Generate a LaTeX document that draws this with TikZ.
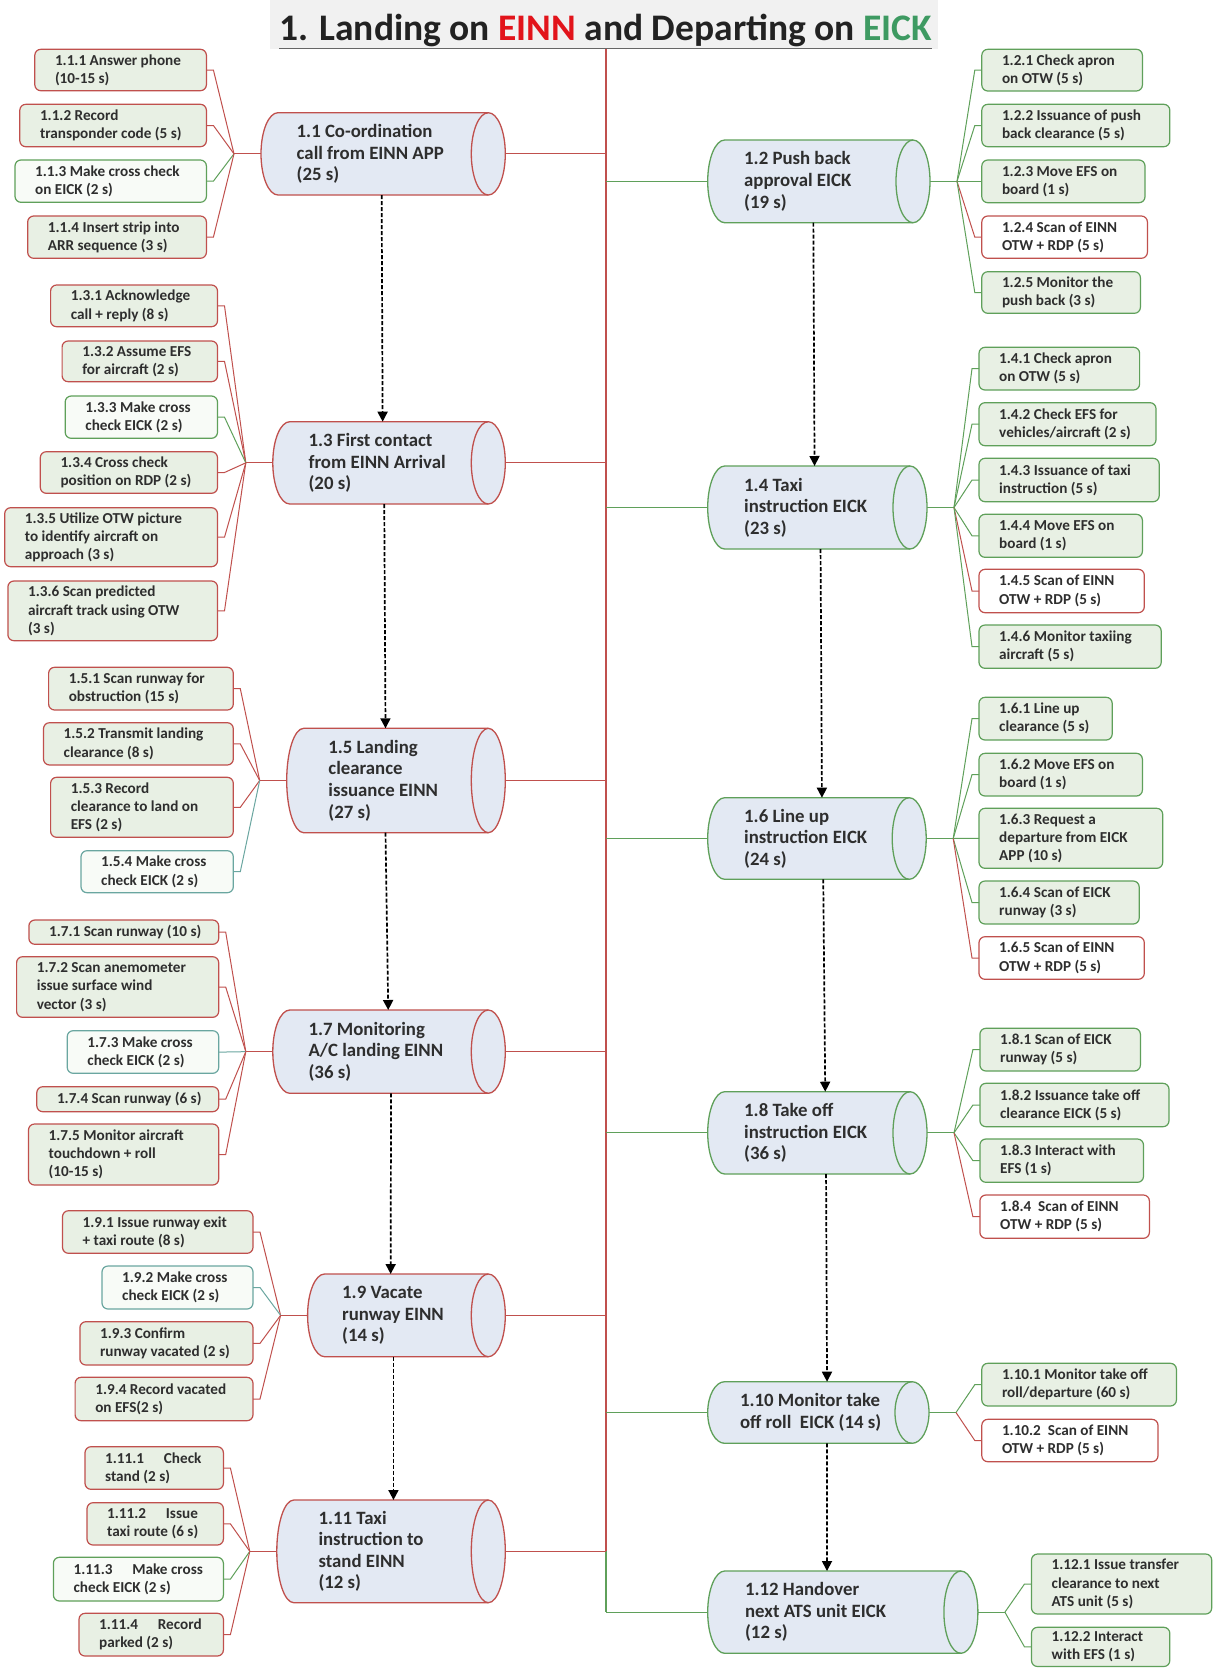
\documentclass[tikz,border=0pt]{standalone}
\usepackage{fontspec}
\setmainfont{Carlito}
\usetikzlibrary{arrows.meta}
\definecolor{einn}{HTML}{C0504D}
\definecolor{eick}{HTML}{5FA05A}
\definecolor{tealc}{HTML}{6AA6A0}
\definecolor{cylfill}{HTML}{E3E9F3}
\definecolor{leaffill}{HTML}{E8F0E4}
\definecolor{leafwhite}{HTML}{F8FBF7}
\definecolor{txt}{HTML}{2E2E2E}
\definecolor{titlered}{HTML}{E2141B}
\definecolor{titlegreen}{HTML}{3E9A62}
\definecolor{titlebg}{HTML}{F1F1F1}
\definecolor{titletxt}{HTML}{222222}
\tikzset{
  leafbox/.style={rectangle, rounded corners=6pt, line width=1.2pt, inner sep=0pt, outer sep=0pt},
  leaftext/.style={align=left, inner sep=0pt, text=txt, font=\bfseries\fontsize{15.2}{18.3}\selectfont},
  cylbox/.style={rectangle, inner sep=0pt, outer sep=0pt},
  cylline/.style={line width=1.3pt},
  cyltext/.style={align=left, inner sep=0pt, text=txt, font=\bfseries\fontsize{18.8}{21.6}\selectfont},
  conn/.style={line width=1pt},
  flow/.style={line width=1.7pt, dash pattern=on 4pt off 2pt, -{Triangle[length=10pt,width=10pt]}},
  trunkline/.style={line width=1.6pt}
}
% left leaf: name, x1, y1, x2, y2, border, fill, text, hub
\newcommand\leafL[9]{%
  \node[leafbox, draw=#6, fill=#7, anchor=north west, minimum width={(#4)-(#2)}, minimum height={(#5)-(#3)}] (#1) at (#2,#3) {};
  \node[leaftext, anchor=west] (#1t) at ([xshift=20pt]#1.west) {#8};
  \draw[conn, draw=#6] (#1.east) -- ([xshift=7pt]#1.east) -- (#9);
}
% right leaf
\newcommand\leafR[9]{%
  \node[leafbox, draw=#6, fill=#7, anchor=north west, minimum width={(#4)-(#2)}, minimum height={(#5)-(#3)}] (#1) at (#2,#3) {};
  \node[leaftext, anchor=west] (#1t) at ([xshift=20pt]#1.west) {#8};
  \draw[conn, draw=#6] (#9) -- ([xshift=-7pt]#1.west) -- (#1.west);
}
% cylinder: name, x1, y1, x2, y2, colour, text offset, text
\newcommand\cyl[8]{%
  \pgfmathsetmacro\cylry{((#5)-(#3))/2}
  \node[cylbox, anchor=north west, minimum width={(#4)-(#2)}, minimum height={(#5)-(#3)}] (#1) at (#2,#3) {};
  \filldraw[cylline, draw=#6, fill=cylfill] ([xshift=17pt]#1.north west) -- ([xshift=-17pt]#1.north east)
     arc[start angle=90, end angle=-90, x radius=17pt, y radius=\cylry pt]
     -- ([xshift=17pt]#1.south west)
     arc[start angle=270, end angle=90, x radius=17pt, y radius=\cylry pt] -- cycle;
  \draw[cylline, draw=#6] ([xshift=-17pt]#1.north east) arc[start angle=90, end angle=270, x radius=17pt, y radius=\cylry pt];
  \node[cyltext, anchor=west] (#1t) at ([xshift=#7pt]#1.west) {#8};
}
\begin{document}
\begin{tikzpicture}[x=1pt, y=-1pt]
\useasboundingbox (0,0) rectangle (1214,1668);
\fill[white] (0,0) rectangle (1214,1668);
% title
\fill[titlebg] (270,0) rectangle (938,48.5);
\node[anchor=base west, inner sep=0pt, text=titletxt, font=\bfseries\fontsize{37.5}{40}\selectfont] (title) at (279,40.5)
  {1. Landing on \textcolor{titlered}{EINN} and Departing on \textcolor{titlegreen}{EICK}};
\coordinate (ulL) at (279,48.5);
\draw[line width=1.4pt, draw=black!60] (ulL) -- (ulL -| title.east);
% trunk
\coordinate (trunktop) at (606,48.5);
\coordinate (trunkmid) at (606,1551.3);
\coordinate (trunkbot) at (606,1612.2);
\draw[trunkline, draw=einn] (trunktop) -- (trunkmid);
\draw[trunkline, draw=eick] (trunkmid) -- (trunkbot);

% cylinders
\cyl{c11}{261}{112.7}{505.3}{195}{einn}{35.5}{1.1 Co-ordination\\call from EINN APP\\(25 s)}
\cyl{c12}{707.7}{140}{930}{222.7}{eick}{36.3}{1.2 Push back\\approval EICK\\(19 s)}
\cyl{c13}{272.8}{421.7}{505.3}{504}{einn}{35.6}{1.3 First contact\\from EINN Arrival\\(20 s)}
\cyl{c14}{707.7}{466}{927}{549}{eick}{36.3}{1.4 Taxi\\instruction EICK\\(23 s)}
\cyl{c15}{286.7}{728.3}{505.3}{832.7}{einn}{41.5}{1.5 Landing\\clearance\\issuance EINN\\(27 s)}
\cyl{c16}{707.7}{797.7}{926.2}{879.3}{eick}{36.3}{1.6 Line up\\instruction EICK\\(24 s)}
\cyl{c17}{272.8}{1010}{505.3}{1093.3}{einn}{35.6}{1.7 Monitoring\\A/C landing EINN\\(36 s)}
\cyl{c18}{707.7}{1091.7}{927}{1174}{eick}{36.3}{1.8 Take off\\instruction EICK\\(36 s)}
\cyl{c19}{307.6}{1274}{505.3}{1356.7}{einn}{34.4}{1.9 Vacate\\runway EINN\\(14 s)}
\cyl{c110}{707.7}{1381.7}{929}{1443.3}{eick}{32.1}{1.10 Monitor take\\off roll\ \ EICK (14 s)}
\cyl{c111}{276.8}{1500}{505.3}{1602.7}{einn}{41.5}{1.11 Taxi\\instruction to\\stand EINN\\(12 s)}
\cyl{c112}{707.7}{1571}{977.9}{1653.3}{eick}{37.2}{1.12 Handover\\next ATS unit EICK\\(12 s)}

% cylinder to trunk
\foreach \c in {c11,c13,c15,c17,c19,c111}{
  \draw[conn, line width=1.2pt, draw=einn] (\c.east) -- (\c.east -| trunktop);
}
\foreach \c in {c12,c14,c16,c18,c110,c112}{
  \draw[conn, line width=1.2pt, draw=eick] (\c.west -| trunktop) -- (\c.west);
}

% hubs
\foreach \c in {c11,c13,c15,c17,c19,c111}{
  \coordinate (h\c) at ([xshift=-27pt]\c.west);
  \draw[conn, draw=einn] (h\c) -- (\c.west);
}
\foreach \c in {c12,c14,c16,c18,c110,c112}{
  \coordinate (h\c) at ([xshift=27pt]\c.east);
  \draw[conn, draw=eick] (\c.east) -- (h\c);
}

% flow arrows
\draw[flow] ([xshift=-1.5pt]c11.south) -- ([xshift=-6.4pt]c13.north);
\draw[flow] ([xshift=-4.8pt]c13.south) -- ([xshift=-10.5pt]c15.north);
\draw[flow] ([xshift=-10.5pt]c15.south) -- ([xshift=-0.8pt]c17.north);
\draw[flow] ([xshift=2pt]c17.south) -- ([xshift=-15.8pt]c19.north);
\draw[flow] ([xshift=-13pt]c19.south) -- ([xshift=2.4pt]c111.north);
\draw[flow] ([xshift=-5.5pt]c12.south) -- ([xshift=-2.8pt]c14.north);
\draw[flow] ([xshift=3.2pt]c14.south) -- ([xshift=5pt]c16.north);
\draw[flow] ([xshift=6.3pt]c16.south) -- ([xshift=7.9pt]c18.north);
\draw[flow] ([xshift=8.7pt]c18.south) -- ([xshift=8.7pt]c110.north);
\draw[flow] ([xshift=8.7pt]c110.south) -- ([xshift=-15.8pt]c112.north);

% left leaves
\leafL{l111}{34.8}{49.3}{206.4}{90.7}{einn}{leaffill}{1.1.1 Answer phone\\(10-15 s)}{hc11}
\leafL{l112}{19.8}{104.3}{206.4}{146.7}{einn}{leaffill}{1.1.2 Record\\transponder code (5 s)}{hc11}
\leafL{l113}{15}{160}{206.4}{202.3}{eick}{leafwhite}{1.1.3 Make cross check\\on EICK (2 s)}{hc11}
\leafL{l114}{27.7}{216}{206.4}{258.3}{einn}{leaffill}{1.1.4 Insert strip into\\ARR sequence (3 s)}{hc11}

\leafL{l131}{50.6}{285}{217.5}{326.7}{einn}{leaffill}{1.3.1 Acknowledge\\call + reply (8 s)}{hc13}
\leafL{l132}{62.1}{341}{217.5}{381.7}{einn}{leaffill}{1.3.2 Assume EFS\\for aircraft (2 s)}{hc13}
\leafL{l133}{65.2}{396}{217.5}{438.3}{eick}{leafwhite}{1.3.3 Make cross\\check EICK (2 s)}{hc13}
\leafL{l134}{40.3}{451.7}{217.5}{493.3}{einn}{leaffill}{1.3.4 Cross check\\position on RDP (2 s)}{hc13}
\leafL{l135}{4.7}{507.7}{217.5}{566.7}{einn}{leaffill}{1.3.5 Utilize OTW picture\\to identify aircraft on\\approach (3 s)}{hc13}
\leafL{l136}{7.9}{581}{217.5}{640.7}{einn}{leaffill}{1.3.6 Scan predicted\\aircraft track using OTW\\(3 s)}{hc13}

\leafL{l151}{48.6}{667.3}{233.3}{710}{einn}{leaffill}{1.5.1 Scan runway for\\obstruction (15 s)}{hc15}
\leafL{l152}{43.5}{722.7}{233.3}{765}{einn}{leaffill}{1.5.2 Transmit landing\\clearance (8 s)}{hc15}
\leafL{l153}{50.6}{777.3}{233.3}{837.3}{einn}{leaffill}{1.5.3 Record\\clearance to land on\\EFS (2 s)}{hc15}
\leafL{l154}{81}{850.7}{233.3}{892.7}{tealc}{leafwhite}{1.5.4 Make cross\\check EICK (2 s)}{hc15}

\leafL{l171}{28.9}{920}{218.7}{944.3}{einn}{leaffill}{1.7.1 Scan runway (10 s)}{hc17}
\leafL{l172}{16.6}{956.7}{218.7}{1017.3}{einn}{leaffill}{1.7.2 Scan anemometer\\issue surface wind\\vector (3 s)}{hc17}
\leafL{l173}{67.2}{1030.7}{218.7}{1073.3}{tealc}{leafwhite}{1.7.3 Make cross\\check EICK (2 s)}{hc17}
\leafL{l174}{36.8}{1086.7}{218.7}{1111.7}{einn}{leaffill}{1.7.4 Scan runway (6 s)}{hc17}
\leafL{l175}{28.5}{1124}{218.7}{1185}{einn}{leaffill}{1.7.5 Monitor aircraft\\touchdown + roll\\(10-15 s)}{hc17}

\leafL{l191}{62.5}{1210.7}{253}{1253.3}{einn}{leaffill}{1.9.1 Issue runway exit\\+ taxi route (8 s)}{hc19}
\leafL{l192}{102}{1266}{253}{1309}{tealc}{leafwhite}{1.9.2 Make cross\\check EICK (2 s)}{hc19}
\leafL{l193}{79.9}{1321.7}{253}{1365}{einn}{leaffill}{1.9.3 Confirm\\runway vacated (2 s)}{hc19}
\leafL{l194}{75.1}{1377.3}{253}{1420.7}{einn}{leaffill}{1.9.4 Record vacated\\on EFS(2 s)}{hc19}

\leafL{l1111}{85}{1446.7}{223.4}{1489.3}{einn}{leaffill}{1.11.1\hspace{1.3em}Check\\stand (2 s)}{hc111}
\leafL{l1112}{87}{1502.7}{223.4}{1545}{einn}{leaffill}{1.11.2\hspace{1.3em}Issue\\taxi route (6 s)}{hc111}
\leafL{l1113}{53.4}{1557.3}{223.4}{1601}{eick}{leafwhite}{1.11.3\hspace{1.3em}Make cross\\check EICK (2 s)}{hc111}
\leafL{l1114}{79}{1613.3}{223.4}{1656}{einn}{leaffill}{1.11.4\hspace{1.3em}Record\\parked (2 s)}{hc111}

% right leaves
\leafR{r121}{981.8}{49.3}{1142.4}{91}{eick}{leaffill}{1.2.1 Check apron\\on OTW (5 s)}{hc12}
\leafR{r122}{981.8}{104.3}{1169.8}{146.7}{eick}{leaffill}{1.2.2 Issuance of push\\back clearance (5 s)}{hc12}
\leafR{r123}{981.8}{160}{1145}{202.7}{eick}{leaffill}{1.2.3 Move EFS on\\board (1 s)}{hc12}
\leafR{r124}{981.8}{216}{1147.4}{258.3}{einn}{white}{1.2.4 Scan of EINN\\OTW + RDP (5 s)}{hc12}
\leafR{r125}{981.8}{271.7}{1140.4}{313.3}{eick}{leaffill}{1.2.5 Monitor the\\push back (3 s)}{hc12}

\leafR{r141}{979}{347.3}{1139.6}{390}{eick}{leaffill}{1.4.1 Check apron\\on OTW (5 s)}{hc14}
\leafR{r142}{979}{402.7}{1156}{445.7}{eick}{leaffill}{1.4.2 Check EFS for\\vehicles/aircraft (2 s)}{hc14}
\leafR{r143}{979}{458.3}{1159.2}{501.7}{eick}{leaffill}{1.4.3 Issuance of taxi\\instruction (5 s)}{hc14}
\leafR{r144}{979}{514.3}{1142.4}{557.3}{eick}{leaffill}{1.4.4 Move EFS on\\board (1 s)}{hc14}
\leafR{r145}{979}{569.3}{1144.3}{612.7}{einn}{white}{1.4.5 Scan of EINN\\OTW + RDP (5 s)}{hc14}
\leafR{r146}{979}{625}{1161.2}{668.3}{eick}{leaffill}{1.4.6 Monitor taxiing\\aircraft (5 s)}{hc14}

\leafR{r161}{979}{697.3}{1112.2}{740}{eick}{leaffill}{1.6.1 Line up\\clearance (5 s)}{hc16}
\leafR{r162}{979}{753.3}{1142.4}{796}{eick}{leaffill}{1.6.2 Move EFS on\\board (1 s)}{hc16}
\leafR{r163}{979}{808.3}{1162.7}{868.3}{eick}{leaffill}{1.6.3 Request a\\departure from EICK\\APP (10 s)}{hc16}
\leafR{r164}{979}{881}{1139.2}{924}{eick}{leaffill}{1.6.4 Scan of EICK\\runway (3 s)}{hc16}
\leafR{r165}{979}{936.7}{1144.3}{979.3}{einn}{white}{1.6.5 Scan of EINN\\OTW + RDP (5 s)}{hc16}

\leafR{r181}{979.9}{1028.3}{1140.4}{1071}{eick}{leaffill}{1.8.1 Scan of EICK\\runway (5 s)}{hc18}
\leafR{r182}{979.9}{1083.3}{1169}{1126.7}{eick}{leaffill}{1.8.2 Issuance take off\\clearance EICK (5 s)}{hc18}
\leafR{r183}{979.9}{1139}{1143.5}{1182.3}{eick}{leaffill}{1.8.3 Interact with\\EFS (1 s)}{hc18}
\leafR{r184}{979.9}{1195}{1149.4}{1238.3}{einn}{white}{1.8.4\ \ Scan of EINN\\OTW + RDP (5 s)}{hc18}

\leafR{r1101}{981.8}{1363.3}{1176.4}{1406}{eick}{leaffill}{1.10.1 Monitor take off\\roll/departure (60 s)}{hc110}
\leafR{r1102}{981.8}{1419.3}{1158}{1461.7}{einn}{white}{1.10.2\ \ Scan of EINN\\OTW + RDP (5 s)}{hc110}

\leafR{r1121}{1031.5}{1554}{1211.7}{1614}{eick}{leaffill}{1.12.1 Issue transfer\\clearance to next\\ATS unit (5 s)}{hc112}
\leafR{r1122}{1031.5}{1627.3}{1169.8}{1666.5}{eick}{leaffill}{1.12.2 Interact\\with EFS (1 s)}{hc112}
\end{tikzpicture}
\end{document}
